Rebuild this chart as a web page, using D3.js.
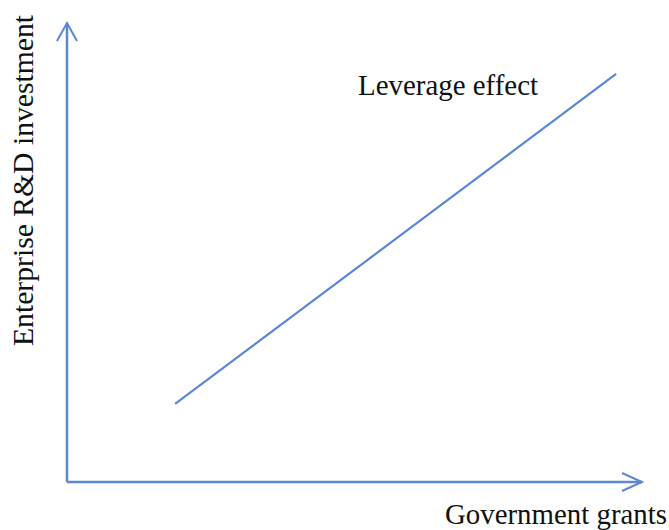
<!DOCTYPE html>
<html><head><meta charset="utf-8">
<script src="https://cdn.jsdelivr.net/npm/d3@7"></script>
<style>body{margin:0;background:#fff;}svg{display:block;}</style>
</head><body>
<svg id="c" width="669" height="530"></svg>
<script>
const grants = [18.8, 95.5];
const investment = [17.0, 88.9];
const lineLabel = "Leverage effect";
const xTitle = "Government grants";
const yTitle = "Enterprise R&D investment";

const W = 669, H = 530;
const color = "#5b87d3";
const svg = d3.select("#c");
const x = d3.scaleLinear().domain([0, 100]).range([67, 642]);
const y = d3.scaleLinear().domain([0, 100]).range([482, 23]);

// axes
const axisLine = d3.line();
svg.append("path").attr("d", axisLine([[x(0), y(0)], [x(0), y(100)]]))
  .attr("stroke", color).attr("stroke-width", 2.5).attr("fill", "none");
svg.append("path").attr("d", axisLine([[x(0), y(0)], [x(100), y(0)]]))
  .attr("stroke", color).attr("stroke-width", 2.5).attr("fill", "none");
// arrowheads
svg.append("path").attr("d", axisLine([[x(0)-10, y(100)+18], [x(0), y(100)], [x(0)+10, y(100)+18]]))
  .attr("stroke", color).attr("stroke-width", 2).attr("fill", "none");
svg.append("path").attr("d", axisLine([[x(100)-20, y(0)-9], [x(100), y(0)], [x(100)-20, y(0)+9]]))
  .attr("stroke", color).attr("stroke-width", 2).attr("fill", "none");

// data line
const pts = grants.map((g, i) => [x(g), y(investment[i])]);
svg.append("path").attr("d", d3.line()(pts))
  .attr("stroke", color).attr("stroke-width", 2.2).attr("fill", "none");

const font = "'Liberation Serif','Times New Roman',serif";
svg.append("text").attr("x", 358).attr("y", 95).text(lineLabel)
  .attr("font-family", font).attr("font-size", 29).attr("fill", "#111")
  .attr("textLength", 180).attr("lengthAdjust", "spacingAndGlyphs");
svg.append("text").attr("x", 445).attr("y", 524).text(xTitle)
  .attr("font-family", font).attr("font-size", 29).attr("fill", "#111")
  .attr("textLength", 222).attr("lengthAdjust", "spacingAndGlyphs");
svg.append("text").attr("transform", "translate(33,346) rotate(-90)").text(yTitle)
  .attr("font-family", font).attr("font-size", 29).attr("fill", "#111")
  .attr("textLength", 331).attr("lengthAdjust", "spacingAndGlyphs");
</script>
</body></html>
